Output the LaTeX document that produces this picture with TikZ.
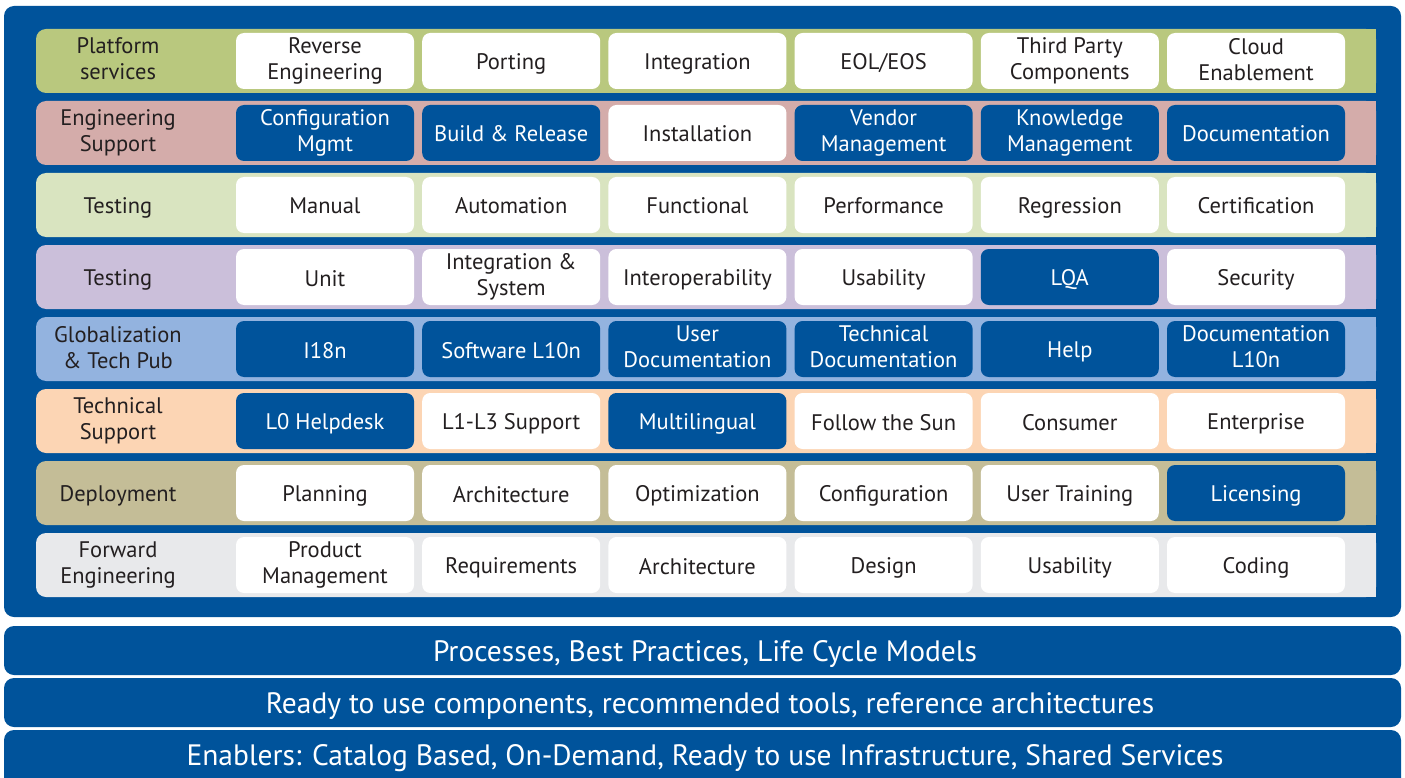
\documentclass[tikz,border=0pt]{standalone}
\usepackage{fontspec}
\setmainfont{PT Sans}
\usetikzlibrary{positioning}
\definecolor{navy}{RGB}{0,83,155}
\definecolor{ink}{RGB}{35,31,32}
\definecolor{bandA}{RGB}{185,200,126}
\definecolor{bandB}{RGB}{212,172,170}
\definecolor{bandC}{RGB}{217,228,192}
\definecolor{bandD}{RGB}{203,191,218}
\definecolor{bandE}{RGB}{147,179,223}
\definecolor{bandF}{RGB}{252,213,180}
\definecolor{bandG}{RGB}{196,189,151}
\definecolor{bandH}{RGB}{232,233,235}
\newcommand\cellstrut{\vrule height 22pt depth 4pt width 0pt}
\tikzset{
  cellw/.style={fill=white,text=ink,rounded corners=8pt,minimum width=178pt,
    minimum height=56pt,inner sep=0pt,align=center,font=\fontsize{22.5}{26}\selectfont,
    execute at begin node=\cellstrut,execute at end node=\cellstrut},
  celld/.style={cellw,fill=navy,text=white},
  rowlabel/.style={text=ink,align=center,inner sep=0pt,font=\fontsize{22.5}{26}\selectfont,
    execute at begin node=\cellstrut,execute at end node=\cellstrut},
  barlabel/.style={text=white,inner sep=0pt,anchor=base,font=\fontsize{29.5}{34}\selectfont}
}

\begin{document}
\begin{tikzpicture}[x=1pt,y=-1pt]
\clip (0,0) rectangle (1405,778);
% main panel
\fill[navy,rounded corners=10pt] (4,6) rectangle (1401,617);
% coloured bands, round on the left only
\foreach \i/\c in {1/bandA,2/bandB,3/bandC,4/bandD,5/bandE,6/bandF,7/bandG,8/bandH}{
  \pgfmathsetmacro\rowy{61+72*(\i-1)}
  \fill[\c,rounded corners=10pt] (36,\rowy-32) rectangle (1376,\rowy+32);
  \fill[\c] (1340,\rowy-32) rectangle (1376,\rowy+32);
}
% row 1
\node[rowlabel] (l1) at (118,61) {Platform\\services};
\foreach \t/\s [count=\j] in {{Reverse\\Engineering}/cellw,Porting/cellw,Integration/cellw,
  {EOL/EOS}/cellw,{Third Party\\Components}/cellw,{Cloud\\Enablement}/cellw}
  \node[\s] (c1\j) at ({325+186.2*(\j-1)},61) {\t};
% row 2
\node[rowlabel] (l2) at (118,133) {Engineering\\Support};
\foreach \t/\s [count=\j] in {{Configuration\\Mgmt}/celld,{Build \& Release}/celld,Installation/cellw,
  {Vendor\\Management}/celld,{Knowledge\\Management}/celld,Documentation/celld}
  \node[\s] (c2\j) at ({325+186.2*(\j-1)},133) {\t};
% row 3
\node[rowlabel] (l3) at (118,205) {Testing};
\foreach \t/\s [count=\j] in {Manual/cellw,Automation/cellw,Functional/cellw,
  Performance/cellw,Regression/cellw,Certification/cellw}
  \node[\s] (c3\j) at ({325+186.2*(\j-1)},205) {\t};
% row 4
\node[rowlabel] (l4) at (118,277) {Testing};
\foreach \t/\s [count=\j] in {Unit/cellw,{Integration \&\\System}/cellw,Interoperability/cellw,
  Usability/cellw,LQA/celld,Security/cellw}
  \node[\s] (c4\j) at ({325+186.2*(\j-1)},277) {\t};
% row 5
\node[rowlabel] (l5) at (118,349) {Globalization\\\& Tech Pub};
\foreach \t/\s [count=\j] in {I18n/celld,{Software L10n}/celld,{User\\Documentation}/celld,
  {Technical\\Documentation}/celld,Help/celld,{Documentation\\L10n}/celld}
  \node[\s] (c5\j) at ({325+186.2*(\j-1)},349) {\t};
% row 6
\node[rowlabel] (l6) at (118,421) {Technical\\Support};
\foreach \t/\s [count=\j] in {{L0 Helpdesk}/celld,{L1-L3 Support}/cellw,Multilingual/celld,
  {Follow the Sun}/cellw,Consumer/cellw,Enterprise/cellw}
  \node[\s] (c6\j) at ({325+186.2*(\j-1)},421) {\t};
% row 7
\node[rowlabel] (l7) at (118,493) {Deployment};
\foreach \t/\s [count=\j] in {Planning/cellw,Architecture/cellw,Optimization/cellw,
  Configuration/cellw,{User Training}/cellw,Licensing/celld}
  \node[\s] (c7\j) at ({325+186.2*(\j-1)},493) {\t};
% row 8
\node[rowlabel] (l8) at (118,565) {Forward\\Engineering};
\foreach \t/\s [count=\j] in {{Product\\Management}/cellw,Requirements/cellw,Architecture/cellw,
  Design/cellw,Usability/cellw,Coding/cellw}
  \node[\s] (c8\j) at ({325+186.2*(\j-1)},565) {\t};
% bottom bars
\fill[navy,rounded corners=10pt] (4,626) rectangle (1401,675);
\fill[navy,rounded corners=10pt] (4,678) rectangle (1401,727);
\fill[navy,rounded corners=10pt] (4,730) rectangle (1401,800);
\node[barlabel] (b1) at (705,661) {Processes, Best Practices, Life Cycle Models};
\node[barlabel] (b2) at (710,713) {Ready to use components, recommended tools, reference architectures};
\node[barlabel] (b3) at (705,765) {Enablers: Catalog Based, On-Demand, Ready to use Infrastructure, Shared Services};
\end{tikzpicture}
\end{document}
